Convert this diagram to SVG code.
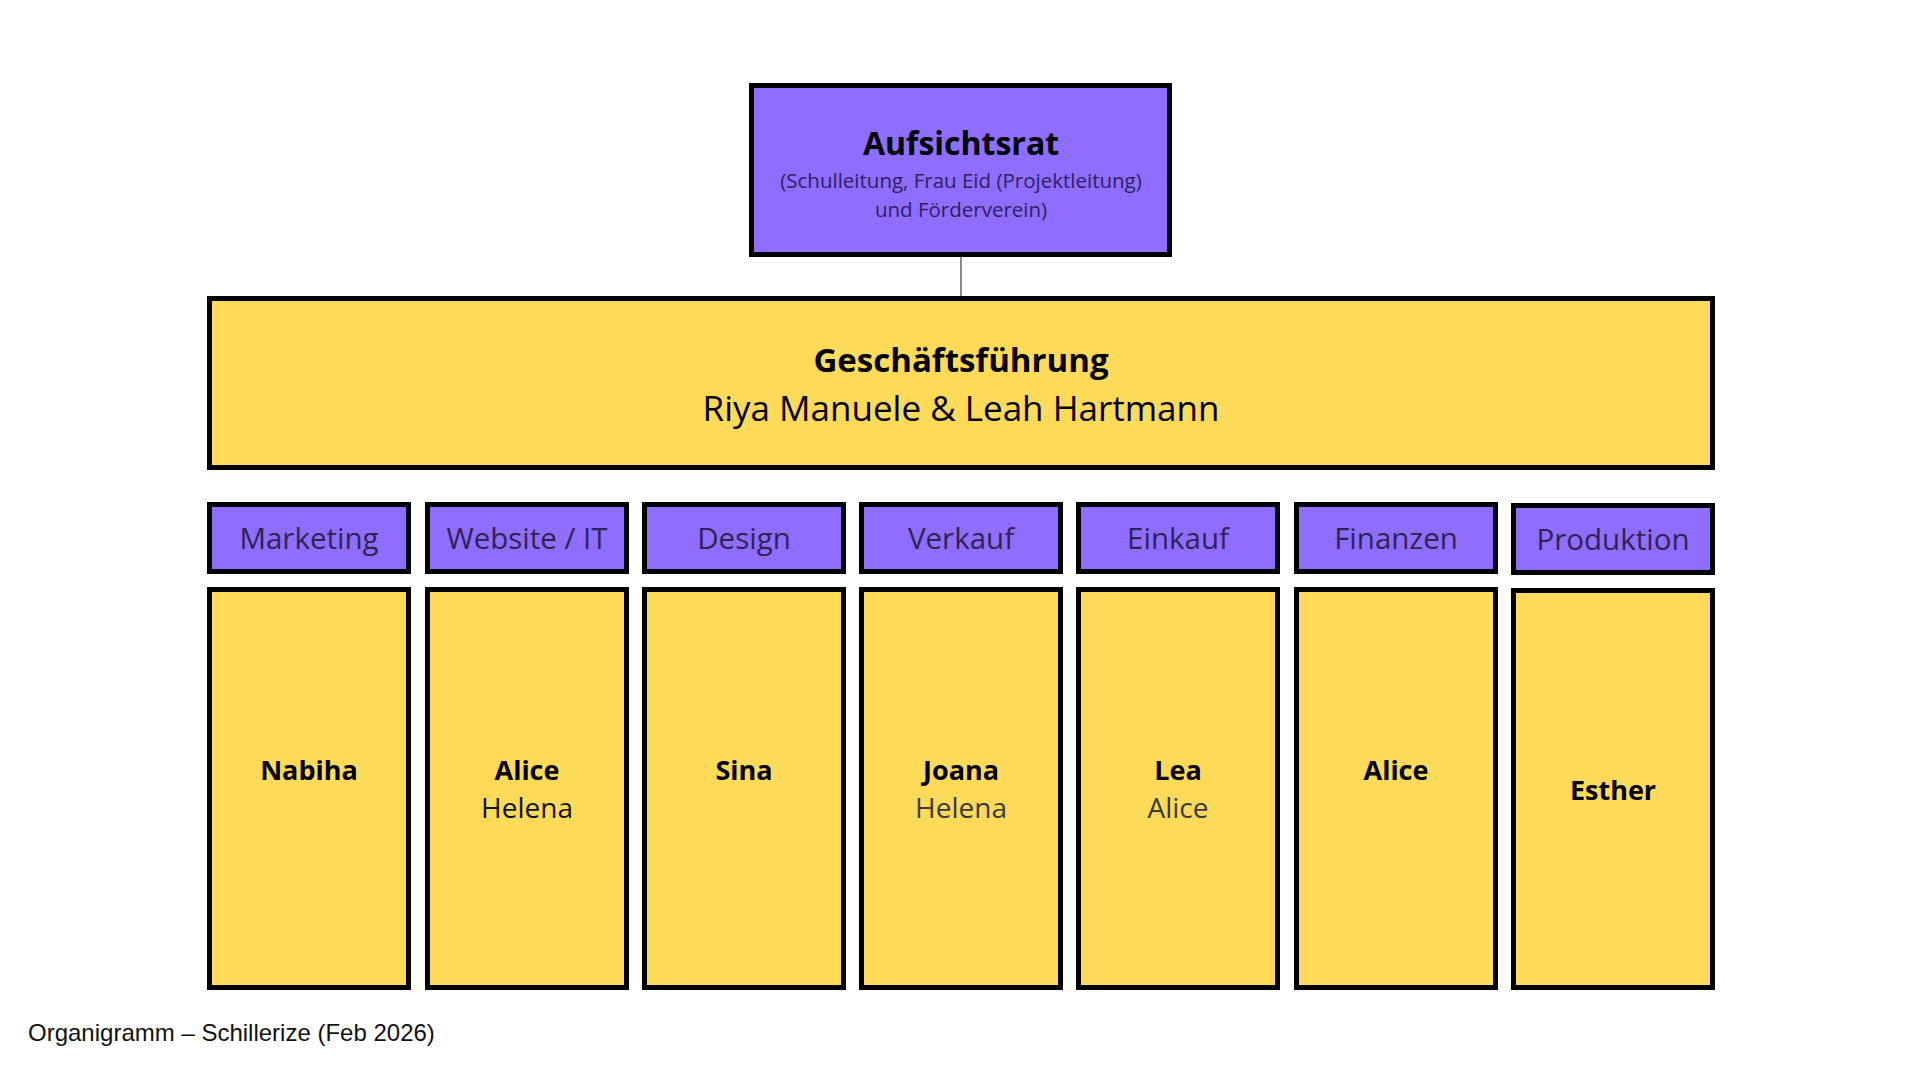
<svg xmlns="http://www.w3.org/2000/svg" width="1920" height="1071" viewBox="0 0 1920 1071">
<style>
.purple{fill:#8f6dfe;stroke:#000;stroke-width:5}
.yellow{fill:#fddb59;stroke:#000;stroke-width:5}
.t{font-family:"Open Sans","Noto Sans",sans-serif;text-anchor:middle}
.b{font-weight:bold;fill:#000}
.hd{font-size:29.5px;fill:#2e2454}
.nm{font-size:27px}
.nr{font-size:28px}
.sub{fill:#3a3a3a}
.conn{stroke:#8a8a8a;stroke-width:2;fill:none}
</style>
<rect width="1920" height="1071" fill="#fff"/>
<g id="connectors">
<line class="conn" x1="961" y1="257" x2="961" y2="296"/>
</g>
<g id="aufsichtsrat">
<rect class="purple" x="751.5" y="85.5" width="418" height="169"/>
<text class="t b" x="961" y="155" font-size="32">Aufsichtsrat</text>
<text class="t" x="961" y="188" font-size="20.5" fill="#2d2160">(Schulleitung, Frau Eid (Projektleitung)</text>
<text class="t" x="961" y="217" font-size="20.5" fill="#2d2160">und Förderverein)</text>
</g>
<g id="geschaeftsfuehrung">
<rect class="yellow" x="209.5" y="298.5" width="1503" height="169"/>
<text class="t b" x="961" y="372" font-size="33">Geschäftsführung</text>
<text class="t" x="961" y="421" font-size="35" fill="#000">Riya Manuele &amp; Leah Hartmann</text>
</g>
<g id="marketing">
<rect class="purple" x="209.5" y="504.5" width="199" height="67"/>
<text class="t hd" x="309" y="549">Marketing</text>
</g>
<g id="website">
<rect class="purple" x="427.5" y="504.5" width="199" height="67"/>
<text class="t hd" x="527" y="549">Website / IT</text>
</g>
<g id="design">
<rect class="purple" x="644.5" y="504.5" width="199" height="67"/>
<text class="t hd" x="744" y="549">Design</text>
</g>
<g id="verkauf">
<rect class="purple" x="861.5" y="504.5" width="199" height="67"/>
<text class="t hd" x="961" y="549">Verkauf</text>
</g>
<g id="einkauf">
<rect class="purple" x="1078.5" y="504.5" width="199" height="67"/>
<text class="t hd" x="1178" y="549">Einkauf</text>
</g>
<g id="finanzen">
<rect class="purple" x="1296.5" y="504.5" width="199" height="67"/>
<text class="t hd" x="1396" y="549">Finanzen</text>
</g>
<g id="produktion">
<rect class="purple" x="1513.5" y="505.5" width="199" height="67"/>
<text class="t hd" x="1613" y="550">Produktion</text>
</g>
<g id="team-marketing">
<rect class="yellow" x="209.5" y="589.5" width="199" height="398"/>
<text class="t b nm" x="309" y="780">Nabiha</text>
</g>
<g id="team-website">
<rect class="yellow" x="427.5" y="589.5" width="199" height="398"/>
<text class="t b nm" x="527" y="780">Alice</text>
<text class="t nr" x="527" y="818" fill="#111">Helena</text>
</g>
<g id="team-design">
<rect class="yellow" x="644.5" y="589.5" width="199" height="398"/>
<text class="t b nm" x="744" y="780">Sina</text>
</g>
<g id="team-verkauf">
<rect class="yellow" x="861.5" y="589.5" width="199" height="398"/>
<text class="t b nm" x="961" y="780">Joana</text>
<text class="t nr sub" x="961" y="818">Helena</text>
</g>
<g id="team-einkauf">
<rect class="yellow" x="1078.5" y="589.5" width="199" height="398"/>
<text class="t b nm" x="1178" y="780">Lea</text>
<text class="t nr sub" x="1178" y="818">Alice</text>
</g>
<g id="team-finanzen">
<rect class="yellow" x="1296.5" y="589.5" width="199" height="398"/>
<text class="t b nm" x="1396" y="780">Alice</text>
</g>
<g id="team-produktion">
<rect class="yellow" x="1513.5" y="590.5" width="199" height="397"/>
<text class="t b nm" x="1613" y="800">Esther</text>
</g>
<text x="28" y="1041" font-family="Liberation Sans, Arial, sans-serif" font-size="24" fill="#111">Organigramm – Schillerize (Feb 2026)</text>
</svg>
